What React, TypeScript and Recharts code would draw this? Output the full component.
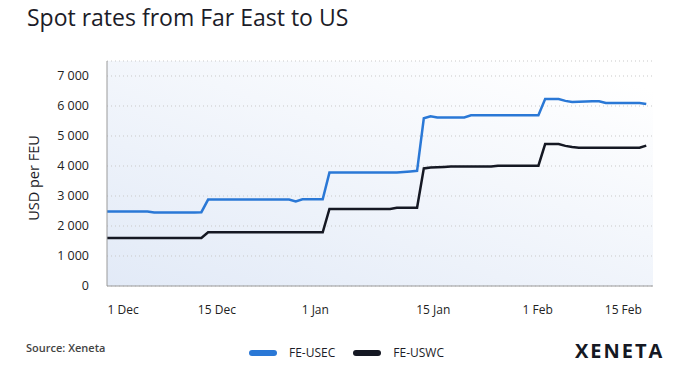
import { LineChart, Line, XAxis, YAxis, CartesianGrid, Label } from "recharts";

// daily samples from 1 Dec (index = day)
const usec = [
  2480, 2480, 2480, 2480, 2480, 2480, 2480,
  2450, 2450, 2450, 2450, 2450, 2450, 2450, 2460,
  2880, 2880, 2880, 2880, 2880, 2880, 2880, 2880, 2880, 2880, 2880, 2880, 2880,
  2820,
  2890, 2890, 2890, 2890,
  3780, 3780, 3780, 3780, 3780, 3780, 3780, 3780, 3780, 3780, 3780,
  3800, 3820, 3840,
  5590, 5660,
  5620, 5620, 5620, 5620, 5620,
  5690, 5690, 5690, 5690, 5690, 5690, 5690, 5690, 5690, 5690, 5690,
  6230, 6230, 6230,
  6170, 6130,
  6140, 6150, 6160, 6160,
  6100, 6100, 6100, 6100, 6100, 6100,
  6070,
];

const uswc = [
  1600, 1600, 1600, 1600, 1600, 1600, 1600, 1600, 1600, 1600, 1600, 1600, 1600, 1600, 1600,
  1790, 1790, 1790, 1790, 1790, 1790, 1790, 1790, 1790, 1790, 1790, 1790, 1790, 1790, 1790, 1790, 1790, 1790,
  2570, 2570, 2570, 2570, 2570, 2570, 2570, 2570, 2570, 2570,
  2610, 2610, 2610, 2610,
  3920, 3950, 3960, 3970,
  3980, 3980, 3980, 3980, 3980, 3980, 3980,
  4010, 4010, 4010, 4010, 4010, 4010, 4010,
  4730, 4730, 4730,
  4670, 4630,
  4610, 4610, 4610, 4610, 4610, 4610, 4610, 4610, 4610, 4610,
  4680,
];

const tickDays = [2.4, 16.3, 30.9, 48.4, 63.9, 76.6];
const tickLabels = ["1 Dec", "15 Dec", "1 Jan", "15 Jan", "1 Feb", "15 Feb"];
const yTicks = [0, 1000, 2000, 3000, 4000, 5000, 6000, 7000];

const series = [
  { key: "usec", name: "FE-USEC", color: "#2a78d6" },
  { key: "uswc", name: "FE-USWC", color: "#151823" },
];

const data = usec.map((v, i) => ({ day: i, usec: v, uswc: uswc[i] }));

const font = "'Open Sans', sans-serif";
const fmt = (v: number) => String(v).replace(/\B(?=(\d{3})+(?!\d))/g, " ");

export default function App() {
  return (
    <div
      style={{
        position: "absolute",
        left: 0,
        top: 0,
        width: 685,
        height: 383,
        background: "#fff",
        fontFamily: font,
        color: "#1c1c28",
      }}
    >
      <div style={{ position: "absolute", left: 27, top: 1, fontSize: 23, whiteSpace: "nowrap" }}>
        Spot rates from Far East to US
      </div>
      <LineChart
        width={685}
        height={383}
        data={data}
        margin={{ top: 61, right: 32, bottom: 57, left: 0 }}
        style={{ fontFamily: font }}
      >
        <defs>
          <linearGradient id="plotBg" x1="0" y1="1" x2="0.85" y2="0">
            <stop offset="0%" stopColor="#e2eaf7" />
            <stop offset="100%" stopColor="#ffffff" />
          </linearGradient>
        </defs>
        <CartesianGrid vertical={false} stroke="#c9c9c9" strokeDasharray="1 3" fill="url(#plotBg)" />
        <XAxis
          type="number"
          dataKey="day"
          domain={[0, 81]}
          ticks={tickDays}
          tickFormatter={(_v: number, i: number) => tickLabels[i]}
          tickLine={false}
          axisLine={{ stroke: "#9a9a9a" }}
          tickMargin={13}
          height={40}
          tick={{ fontSize: 12, fill: "#222" }}
        />
        <YAxis
          domain={[0, 7500]}
          ticks={yTicks}
          tickFormatter={fmt}
          tickLine={false}
          axisLine={{ stroke: "#9a9a9a" }}
          tickMargin={12}
          width={107}
          tick={{ fontSize: 12.5, fill: "#222" }}
        >
          <Label
            content={() => (
              <text
                x={33}
                y={178}
                transform="rotate(-90 33 178)"
                textAnchor="middle"
                dominantBaseline="central"
                fontSize={14.5}
                fill="#1c1c28"
              >
                USD per FEU
              </text>
            )}
          />
        </YAxis>
        {series.map((s) => (
          <Line
            key={s.key}
            type="linear"
            dataKey={s.key}
            name={s.name}
            stroke={s.color}
            strokeWidth={2.5}
            dot={false}
            isAnimationActive={false}
          />
        ))}
      </LineChart>
      <div style={{ position: "absolute", left: 26, top: 340, fontSize: 11, fontWeight: 600, color: "#444" }}>
        Source: Xeneta
      </div>
      <div style={{ position: "absolute", left: 249, top: 344, display: "flex", alignItems: "center", fontSize: 12 }}>
        {series.map((s) => (
          <div key={s.key} style={{ display: "flex", alignItems: "center", marginRight: 18 }}>
            <div style={{ width: 28, height: 6, borderRadius: 3, background: s.color, marginRight: 12 }} />
            <span>{s.name}</span>
          </div>
        ))}
      </div>
      <div
        style={{
          position: "absolute",
          left: 575,
          top: 337,
          fontSize: 20,
          fontWeight: 700,
          letterSpacing: 2,
          color: "#151823",
        }}
      >
        XENETA
      </div>
    </div>
  );
}
